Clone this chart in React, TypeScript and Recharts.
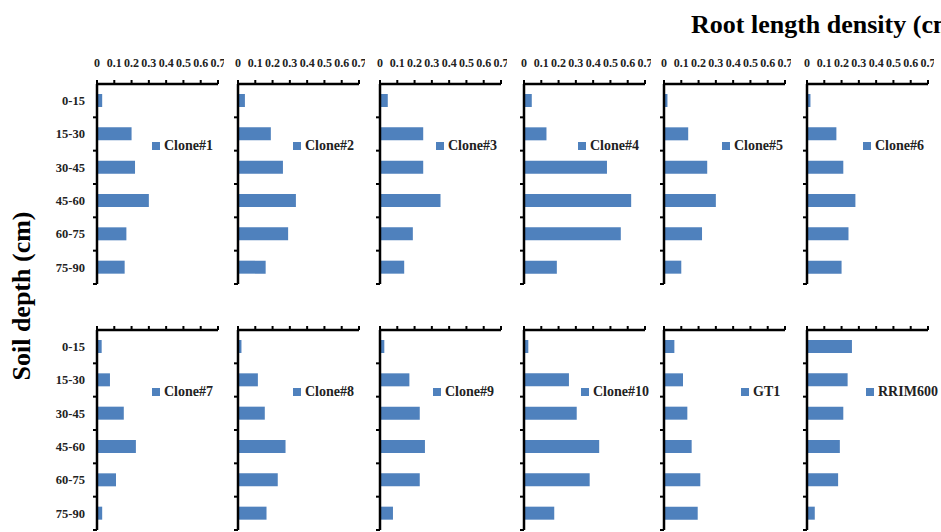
import { Bar, BarChart, Legend, XAxis, YAxis } from 'recharts';

const depths = ['0-15', '15-30', '30-45', '45-60', '60-75', '75-90'];
const xTicks = [0, 0.1, 0.2, 0.3, 0.4, 0.5, 0.6, 0.7];

const clone1 = [0.03, 0.2, 0.22, 0.3, 0.17, 0.16];
const clone2 = [0.04, 0.19, 0.26, 0.335, 0.29, 0.16];
const clone3 = [0.045, 0.25, 0.25, 0.35, 0.19, 0.14];
const clone4 = [0.045, 0.13, 0.48, 0.62, 0.56, 0.19];
const clone5 = [0.02, 0.14, 0.25, 0.3, 0.22, 0.1];
const clone6 = [0.02, 0.17, 0.21, 0.28, 0.24, 0.2];
const clone7 = [0.027, 0.075, 0.155, 0.225, 0.11, 0.03];
const clone8 = [0.02, 0.115, 0.155, 0.275, 0.23, 0.165];
const clone9 = [0.025, 0.17, 0.23, 0.26, 0.23, 0.075];
const clone10 = [0.025, 0.26, 0.305, 0.435, 0.38, 0.175];
const gt1 = [0.06, 0.11, 0.135, 0.16, 0.21, 0.195];
const rrim600 = [0.26, 0.235, 0.21, 0.19, 0.18, 0.045];

const seriesNames = [
  'Clone#1', 'Clone#2', 'Clone#3', 'Clone#4', 'Clone#5', 'Clone#6',
  'Clone#7', 'Clone#8', 'Clone#9', 'Clone#10', 'GT1', 'RRIM600',
];
const seriesValues = [
  clone1, clone2, clone3, clone4, clone5, clone6,
  clone7, clone8, clone9, clone10, gt1, rrim600,
];

// layout of the 2x6 grid (plot left edge / plot top edge)
const colX = [97, 238, 380, 524, 664, 807];
const rowY = [84, 330];
const legendDx = [55, 55, 56, 54, 58, 56, 55, 55, 53, 57, 77, 59];

const AXIS_W = 45;
const X_AXIS_H = 30;
const PLOT_W = 121;
const PLOT_H = 200;
const CHART_W = AXIS_W + PLOT_W + 6;
const CHART_H = X_AXIS_H + PLOT_H + 2;
const HALF_BAND = PLOT_H / depths.length / 2;

const serif = "'Liberation Serif', 'Times New Roman', serif";
const barColor = '#4f81bd';
const axisStroke = { stroke: '#000', strokeWidth: 2.5 };
const tickStroke = { stroke: '#000', strokeWidth: 2 };
const tickText = { fontFamily: serif, fontWeight: 700, fontSize: 12, fill: '#222' };

// Excel-style category axis: marks on the band edges, labels in the middle
function DepthTick(props: any) {
  const { x, y, payload, index, showLabel } = props;
  const last = index === depths.length - 1;
  return (
    <g>
      {index > 0 && (
        <line x1={x} x2={x - 4} y1={y - HALF_BAND} y2={y - HALF_BAND} stroke="#000" strokeWidth={2} />
      )}
      {last && <line x1={x} x2={x - 4} y1={y + HALF_BAND} y2={y + HALF_BAND} stroke="#000" strokeWidth={2} />}
      {showLabel && (
        <text
          x={x - 12}
          y={y}
          dy="0.35em"
          textAnchor="end"
          fontFamily={serif}
          fontWeight={700}
          fontSize={12.5}
          fill="#222"
        >
          {payload.value}
        </text>
      )}
    </g>
  );
}

function Panel({ index }: { index: number }) {
  const row = Math.floor(index / 6);
  const col = index % 6;
  const data = depths.map((depth, i) => ({ depth, value: seriesValues[index][i] }));

  return (
    <div
      style={{
        position: 'absolute',
        left: colX[col] - AXIS_W,
        top: rowY[row] - X_AXIS_H,
        width: CHART_W,
        height: CHART_H,
      }}
    >
      <BarChart
        width={CHART_W}
        height={CHART_H}
        data={data}
        layout="vertical"
        margin={{ top: 0, right: 6, bottom: 2, left: 0 }}
      >
        <XAxis
          type="number"
          orientation="top"
          domain={[0, 0.7]}
          ticks={xTicks}
          interval={0}
          allowDataOverflow
          height={X_AXIS_H}
          tick={tickText}
          tickFormatter={row === 0 ? undefined : () => ''}
          tickSize={4}
          tickMargin={13}
          axisLine={axisStroke}
          tickLine={tickStroke}
        />
        <YAxis
          type="category"
          dataKey="depth"
          width={AXIS_W}
          interval={0}
          axisLine={axisStroke}
          tickLine={false}
          tickSize={0}
          tickMargin={0}
          tick={<DepthTick showLabel={col === 0} />}
        />
        <Bar
          dataKey="value"
          name={seriesNames[index]}
          fill={barColor}
          barSize={13}
          isAnimationActive={false}
        />
        <Legend
          layout="horizontal"
          verticalAlign="middle"
          align="center"
          iconType="square"
          iconSize={8}
          wrapperStyle={{
            left: AXIS_W + legendDx[index],
            top: X_AXIS_H + 53,
            width: 'auto',
            height: 'auto',
            lineHeight: '16px',
          }}
          formatter={(value) => (
            <span style={{ color: '#222', fontFamily: serif, fontWeight: 700, fontSize: 14 }}>{value}</span>
          )}
        />
      </BarChart>
    </div>
  );
}

export default function App() {
  return (
    <div
      style={{
        position: 'absolute',
        left: 0,
        top: 0,
        width: 941,
        height: 532,
        overflow: 'hidden',
        background: '#fff',
        fontFamily: serif,
      }}
    >
      <div
        style={{
          position: 'absolute',
          left: 691,
          top: 10,
          fontSize: 26,
          fontWeight: 700,
          whiteSpace: 'nowrap',
          lineHeight: '30px',
          color: '#000',
        }}
      >
        Root length density (cm cm⁻³)
      </div>
      <div
        style={{
          position: 'absolute',
          left: 22,
          top: 296,
          transform: 'translate(-50%, -50%) rotate(-90deg)',
          fontSize: 26,
          fontWeight: 700,
          whiteSpace: 'nowrap',
          lineHeight: '30px',
          color: '#000',
        }}
      >
        Soil depth (cm)
      </div>
      {seriesNames.map((_, i) => (
        <Panel key={i} index={i} />
      ))}
    </div>
  );
}
